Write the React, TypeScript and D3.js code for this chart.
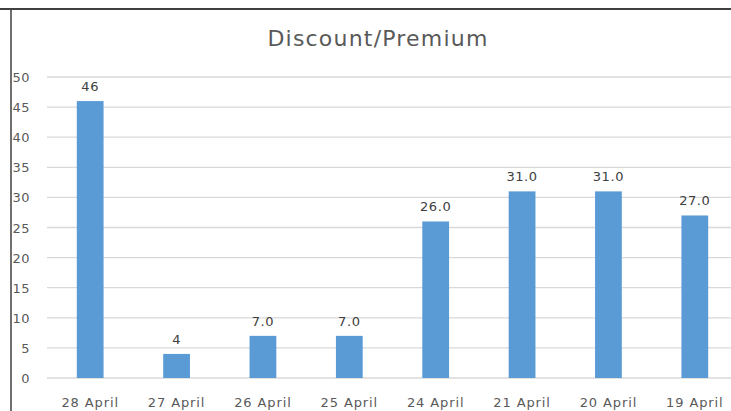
import React from "react";
import * as d3 from "d3";

const categories = ["28 April", "27 April", "26 April", "25 April", "24 April", "21 April", "20 April", "19 April"];
const values = [46, 4, 7, 7, 26, 31, 31, 27];
const valueLabels = ["46", "4", "7.0", "7.0", "26.0", "31.0", "31.0", "27.0"];
const yTicks = [0, 5, 10, 15, 20, 25, 30, 35, 40, 45, 50];
const title = "Discount/Premium";

const W = 731;
const H = 411;
const FONT = "'DejaVu Sans', Verdana, sans-serif";

export default function App() {
  const x = d3.scaleBand<string>().domain(categories).range([47, 738]).paddingInner(0.69).paddingOuter(0.345);
  const y = d3.scaleLinear().domain([0, 50]).range([378, 77]);
  return (
    <div style={{ position: "fixed", left: 0, top: 0, width: W, height: H, overflow: "hidden" }}>
      <svg width={W} height={H} style={{ display: "block", background: "#fff" }}>
        <rect x={0} y={0} width={W} height={H} fill="#fff" />
        <text x={378} y={46} textAnchor="middle" fontFamily={FONT} fontSize={22} letterSpacing={1.2} fill="#595959">{title}</text>
        {yTicks.map((t) => (
          <g key={t}>
            <line x1={47} x2={W} y1={y(t)} y2={y(t)} stroke="#d9d9d9" strokeWidth={1.3} />
            <text x={30} y={y(t) + 5} textAnchor="end" fontFamily={FONT} fontSize={13} letterSpacing={0.5} fill="#595959">{t}</text>
          </g>
        ))}
        {categories.map((c, i) => (
          <g key={c}>
            <rect x={x(c)} y={y(values[i])} width={x.bandwidth()} height={y(0) - y(values[i])} fill="#5b9bd5" />
            <text x={(x(c) as number) + x.bandwidth() / 2} y={y(values[i]) - 10} textAnchor="middle" fontFamily={FONT} fontSize={13} letterSpacing={0.6} fill="#404040">{valueLabels[i]}</text>
            <text x={(x(c) as number) + x.bandwidth() / 2} y={407} textAnchor="middle" fontFamily={FONT} fontSize={13} letterSpacing={0.9} fill="#595959">{c}</text>
          </g>
        ))}
        <line x1={0} x2={W} y1={9} y2={9} stroke="#404040" strokeWidth={2} />
        <line x1={11} x2={11} y1={9} y2={H} stroke="#404040" strokeWidth={1.5} />
      </svg>
    </div>
  );
}
